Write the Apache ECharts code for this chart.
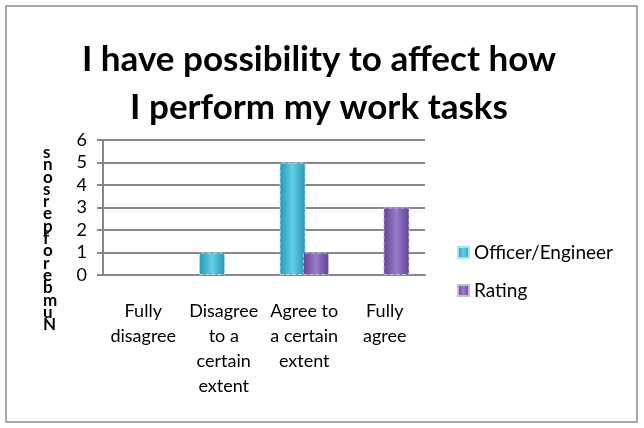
<!DOCTYPE html>
<html>
<head>
<meta charset="utf-8">
<script src="https://cdn.jsdelivr.net/npm/echarts@6/dist/echarts.min.js"></script>
<style>
  html, body { margin: 0; padding: 0; background: #fff; }
  #chart { width: 644px; height: 428px; }
</style>
</head>
<body>
<div id="chart"></div>
<script>
var categories = ['Fully\ndisagree', 'Disagree\nto a\ncertain\nextent', 'Agree to\na certain\nextent', 'Fully\nagree'];
var officerValues = [0, 1, 5, 0];
var ratingValues = [0, 0, 1, 3];
var yTicks = [0, 1, 2, 3, 4, 5, 6];
var yName = 'Number of persons';

var font = 'Lato, "Open Sans", sans-serif';

function grad(dark, light) {
  return new echarts.graphic.LinearGradient(0, 0, 1, 0, [
    { offset: 0, color: dark },
    { offset: 0.5, color: light },
    { offset: 1, color: dark }
  ]);
}

// zero values draw nothing, as in the original
function bars(values) {
  return values.map(function (v) { return v === 0 ? { value: v, itemStyle: { borderWidth: 0, opacity: 0 } } : v; });
}

// the axis title is drawn as stacked upright letters, bottom to top
var stacked = yName.replace(/ /g, '').split('').reverse().join('\n');

var myChart = echarts.init(document.getElementById('chart'));
var option = {
  backgroundColor: '#fff',
  animation: false,
  title: {
    text: 'I have possibility to affect how\nI perform my work tasks',
    left: 314,
    textAlign: 'center',
    top: 31,
    textStyle: { fontFamily: font, fontSize: 35, fontWeight: 'bold', color: '#000', lineHeight: 48 }
  },
  legend: {
    orient: 'vertical',
    left: 452,
    top: 238,
    itemGap: 19,
    itemWidth: 11,
    itemHeight: 11,
    icon: 'rect',
    textStyle: { fontFamily: font, fontSize: 19, color: '#000' },
    data: ['Officer/Engineer', 'Rating']
  },
  grid: { left: 103, top: 140, width: 322, height: 135 },
  xAxis: {
    type: 'category',
    data: categories,
    axisTick: { show: false },
    axisLine: { lineStyle: { color: '#888', width: 2 } },
    axisLabel: { interval: 0, fontFamily: font, fontSize: 18, color: '#000', lineHeight: 25, margin: 24 }
  },
  yAxis: {
    type: 'value',
    min: yTicks[0],
    max: yTicks[yTicks.length - 1],
    interval: 1,
    axisLine: { show: true, lineStyle: { color: '#888', width: 2 } },
    axisTick: { show: true, length: 6, lineStyle: { color: '#888', width: 2 } },
    splitLine: { lineStyle: { color: '#888', width: 2 } },
    axisLabel: { fontFamily: font, fontSize: 18, color: '#000', margin: 16 }
  },
  graphic: [
    {
      type: 'rect',
      shape: { x: 6, y: 6, width: 631, height: 416 },
      style: { fill: 'none', stroke: '#8c8c8c', lineWidth: 1.5 },
      silent: true
    },
    {
      type: 'text',
      left: 43,
      top: 144,
      style: {
        text: stacked,
        fontFamily: font,
        fontSize: 17,
        fontWeight: 'bold',
        lineHeight: 12.3,
        fill: '#000',
        align: 'center'
      }
    }
  ],
  series: [
    {
      name: 'Officer/Engineer',
      type: 'bar',
      data: bars(officerValues),
      barWidth: 26,
      barGap: '-10%',
      itemStyle: { color: grad('#2796b4', '#5fd0e6'), borderColor: '#a9e4f0', borderWidth: 1, borderType: 'dashed' }
    },
    {
      name: 'Rating',
      type: 'bar',
      data: bars(ratingValues),
      barWidth: 26,
      itemStyle: { color: grad('#5f4390', '#9a7bcc'), borderColor: '#c9b6e6', borderWidth: 1, borderType: 'dashed' }
    }
  ]
};
myChart.setOption(option);
</script>
</body>
</html>
